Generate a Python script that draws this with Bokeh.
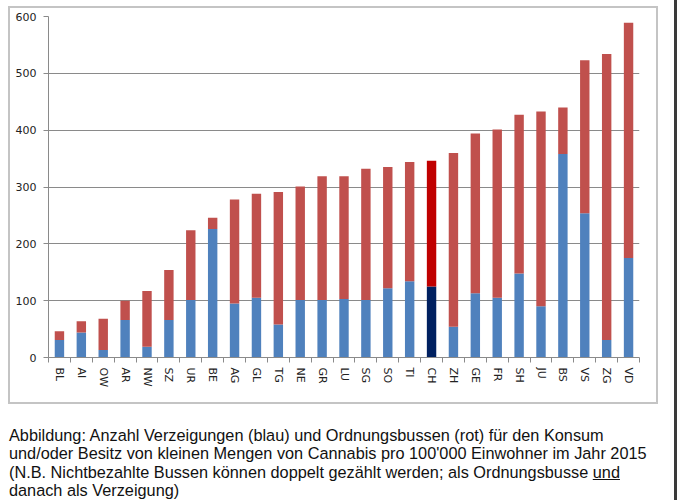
import numpy as np
from bokeh.plotting import figure
from bokeh.models import ColumnDataSource, FixedTicker, Div
from bokeh.layouts import column, row
from bokeh.embed import file_html
from bokeh.resources import INLINE

cantons = ["BL", "AI", "OW", "AR", "NW", "SZ", "UR", "BE", "AG", "GL", "TG", "NE", "GR", "LU",
           "SG", "SO", "TI", "CH", "ZH", "GE", "FR", "SH", "JU", "BS", "VS", "ZG", "VD"]
verzeigungen = [31, 44, 13, 66, 19, 66, 101, 226, 95, 105, 58, 101, 101, 103,
                101, 122, 134, 125, 54, 113, 105, 148, 90, 358, 254, 31, 175]
ordnungsbussen = [15, 20, 55, 34, 98, 88, 123, 20, 183, 183, 233, 200, 218, 216,
                  231, 213, 210, 221, 306, 281, 296, 279, 343, 82, 269, 503, 414]
y_ticks = [0, 100, 200, 300, 400, 500, 600]

BLUE, RED = "#4F81BD", "#C0504D"
CH_BLUE, CH_RED = "#002060", "#C00000"

idx = np.arange(len(cantons))
xpos = idx + 0.5
blue = np.array(verzeigungen, dtype=float)
red = np.array(ordnungsbussen, dtype=float)
src = ColumnDataSource(dict(
    x=xpos, blue=blue, total=blue + red,
    bcol=[CH_BLUE if c == "CH" else BLUE for c in cantons],
    rcol=[CH_RED if c == "CH" else RED for c in cantons],
))

W, H = 650, 398
p = figure(width=W, height=H, x_range=(0, len(cantons)), y_range=(0, 600),
           output_backend="svg", toolbar_location=None,
           min_border_left=38, min_border_right=21, min_border_top=8, min_border_bottom=49)
p.outline_line_color = None
p.background_fill_color = "white"
p.border_fill_color = None
p.styles = {"border": "2px solid #c4c4c4", "background-color": "white"}

p.vbar(x="x", width=0.43, bottom=0, top="blue", fill_color="bcol", line_color=None, source=src)
p.vbar(x="x", width=0.43, bottom="blue", top="total", fill_color="rcol", line_color=None, source=src)

GRAY = "#8a8a8a"
xa = p.xaxis[0]
xa.ticker = FixedTicker(ticks=list(xpos), minor_ticks=list(np.arange(len(cantons) + 1)))
xa.major_label_overrides = {float(x): c for x, c in zip(xpos, cantons)}
xa.major_label_orientation = "vertical"
xa.major_tick_line_color = None
xa.minor_tick_line_color = GRAY
xa.minor_tick_out = 5
xa.minor_tick_in = 0
xa.axis_line_color = GRAY
xa.major_label_standoff = 4
xa.major_label_text_font = "DejaVu Sans"
xa.major_label_text_font_size = "11px"
xa.major_label_text_color = "#222222"

ya = p.yaxis[0]
ya.ticker = FixedTicker(ticks=y_ticks)
ya.minor_tick_line_color = None
ya.major_tick_line_color = GRAY
ya.major_tick_out = 5
ya.major_tick_in = 0
ya.axis_line_color = GRAY
ya.major_label_standoff = 7
ya.major_label_text_font = "DejaVu Sans"
ya.major_label_text_font_size = "11px"
ya.major_label_text_color = "#222222"

p.xgrid.grid_line_color = None
p.ygrid.grid_line_color = GRAY
p.ygrid.ticker = FixedTicker(ticks=y_ticks[1:])

caption = Div(
    text=("Abbildung: Anzahl Verzeigungen (blau) und Ordnungsbussen (rot) für den Konsum<br>"
          "und/oder Besitz von kleinen Mengen von Cannabis pro 100'000 Einwohner im Jahr 2015<br>"
          "(N.B. Nichtbezahlte Bussen können doppelt gezählt werden; als Ordnungsbusse <u>und</u><br>"
          "danach als Verzeigung)"),
    width=660,
    styles={"font-family": "'Liberation Sans', Arial, sans-serif", "font-size": "16.3px",
            "line-height": "18.3px", "white-space": "nowrap", "color": "#111111"},
    margin=(22, 0, 0, 1),
)

strip = Div(text="", width=3, height=500, margin=(0, 0, 0, 5),
            styles={"background-color": "#3a3a3a"})

layout = row(column(p, caption, margin=(6, 0, 0, 8)), strip)
open("out.html", "w").write(file_html(layout, INLINE))
